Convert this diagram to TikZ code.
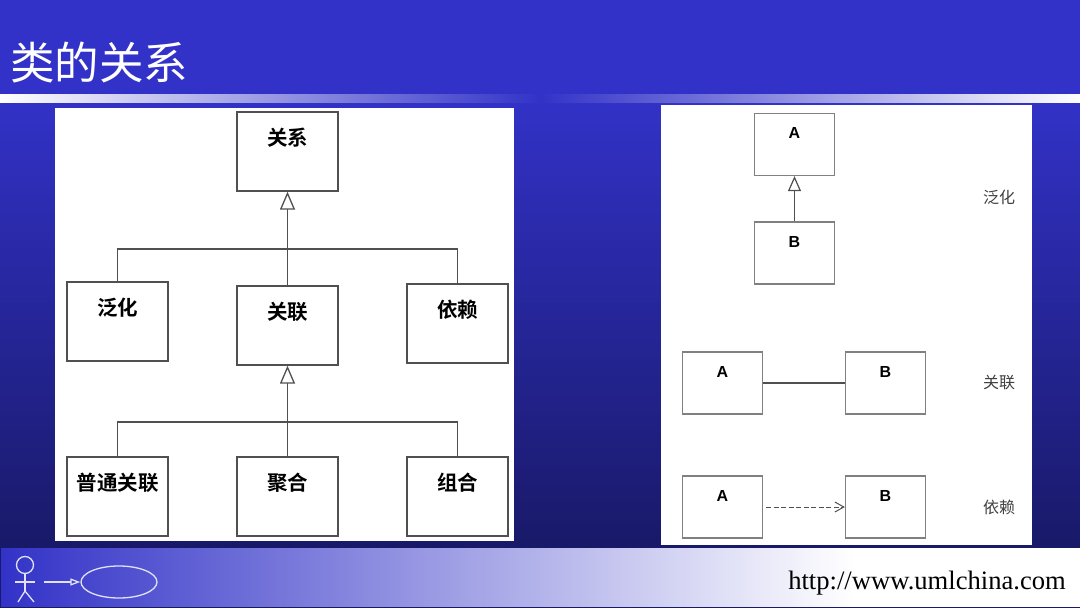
\documentclass[tikz,border=0pt]{standalone}
\usepackage{fontspec}
\setmainfont{Liberation Serif}
\newfontfamily\cjkfont{Noto Sans CJK SC}
\newfontfamily\cjkbold{Noto Sans CJK SC Bold}
\setsansfont{Liberation Sans}
\usetikzlibrary{arrows.meta,shapes.geometric}
\definecolor{slideblue}{RGB}{50,50,200}
\definecolor{slidenavy}{RGB}{25,25,105}
\definecolor{linegray}{RGB}{80,80,80}
\definecolor{stickcolor}{RGB}{225,225,248}
\pgfdeclarehorizontalshading{footbar}{100bp}{color(0bp)=(slideblue); color(25bp)=(slideblue); color(64.5bp)=(white); color(100bp)=(white)}

\begin{document}
\begin{tikzpicture}[
	x=1pt, y=-1pt,
	classbox/.style={draw=linegray, line width=1.3pt, fill=white, minimum width=101pt, inner sep=0pt, font=\fontsize{20.5}{21}\cjkbold, text height=33pt, text depth=46pt},
	smallbox/.style={draw=gray, line width=1.2pt, fill=white, minimum width=80pt, inner sep=0pt, font=\fontsize{16}{16}\sffamily\bfseries, text height=25pt, text depth=37pt},
	kindlabel/.style={font=\fontsize{16}{16}\cjkfont, text=black!75},
	hollow/.style={-{Triangle[open, fill=white, length=18pt, width=15pt]}, draw=linegray, line width=1.3pt},
	branch/.style={draw=linegray, line width=1.3pt},
	stick/.style={draw=stickcolor, line width=1.3pt},
	]
	\useasboundingbox (0,0) rectangle (1080,608);

	%Background
	\shade[top color=slideblue, bottom color=slidenavy] (0,95) rectangle (1080,547);
	\fill[slideblue] (0,0) rectangle (1080,95);
	\shade[left color=white, right color=slideblue] (0,94) rectangle (540,102);
	\shade[left color=slideblue, right color=white] (540,94) rectangle (1080,102);
	\fill[slidenavy] (0,546) rectangle (1080,608);
	\shade[shading=footbar] (1,548) rectangle (1080,606);
	\fill[white] (55,108) rectangle (514,541);
	\fill[white] (661,105) rectangle (1032,545);

	%Title and url
	\node[anchor=west, inner sep=0pt, text=white, font=\fontsize{44.5}{45}\cjkfont] (title) at (10,62) {类的关系};
	\node[anchor=east, inner sep=0pt, font=\fontsize{26.6}{27}\selectfont] (url) at (1066,583) {http://www.umlchina.com};

	%Nodes
	\node[classbox] (relation) at (287.5,151.5) {关系};
	\node[classbox] (general) at (117.5,321.5) {泛化};
	\node[classbox] (assoc) at (287.5,325.5) {关联};
	\node[classbox] (depend) at (457.5,323.5) {依赖};
	\node[classbox] (plain) at (117.5,496.5) {普通关联};
	\node[classbox] (aggr) at (287.5,496.5) {聚合};
	\node[classbox] (compo) at (457.5,496.5) {组合};

	\node[smallbox] (a1) at (794.5,144.5) {A};
	\node[smallbox] (b1) at (794.5,253) {B};
	\node[smallbox] (a2) at (722.5,383) {A};
	\node[smallbox] (b2) at (885.5,383) {B};
	\node[smallbox] (a3) at (722.5,507) {A};
	\node[smallbox] (b3) at (885.5,507) {B};

	\node[kindlabel] (kind1) at (999,197) {泛化};
	\node[kindlabel] (kind2) at (999,383) {关联};
	\node[kindlabel] (kind3) at (999,507) {依赖};

	%Lines
	\draw[hollow] (assoc.north) -- (relation.south);
	\draw[branch] (general.north) |- (287.5,249) -| (depend.north);
	\draw[hollow] (aggr.north) -- (assoc.south);
	\draw[branch] (plain.north) |- (287.5,422) -| (compo.north);

	\draw[-{Triangle[open, fill=white, length=15pt, width=13pt]}, draw=linegray, line width=1.2pt] (b1.north) -- (a1.south);
	\draw[draw=linegray, line width=1.2pt] (a2.east) -- (b2.west);
	\draw[-{Straight Barb[length=9pt, width=10pt]}, dash pattern=on 5pt off 2.5pt, draw=linegray, line width=1pt, shorten <=3pt] (a3.east) -- (b3.west);

	%Logo
	\node[circle, stick, minimum size=17pt, inner sep=0pt] (head) at (25,565) {};
	\node[ellipse, stick, minimum width=76pt, minimum height=32pt, inner sep=0pt] (usecase) at (119,582) {};
	\coordinate (hip) at (25,591);
	\coordinate (armleft) at (15,582);
	\coordinate (armright) at (35,582);
	\coordinate (footleft) at (18,602);
	\coordinate (footright) at (34,602);
	\coordinate (arrowstart) at (44,582);
	\draw[stick] (head.south) -- (hip);
	\draw[stick] (armleft) -- (armright);
	\draw[stick] (footleft) -- (hip) -- (footright);
	\draw[stick, -{Triangle[open, length=10pt, width=7pt]}] (arrowstart) -- (usecase.west);
\end{tikzpicture}
\end{document}
